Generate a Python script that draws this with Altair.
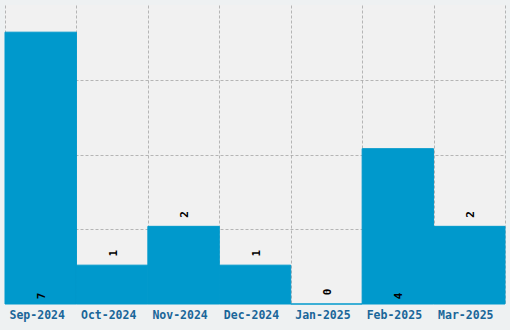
import altair as alt
import pandas as pd

months = ["Sep-2024", "Oct-2024", "Nov-2024", "Dec-2024", "Jan-2025", "Feb-2025", "Mar-2025"]
counts = [7, 1, 2, 1, 0, 4, 2]

df = pd.DataFrame({"month": months, "count": counts})

ymax = 7.7
grid_vals = [ymax * i / 4 for i in range(1, 4)]

x_enc = alt.X("month:N", sort=months, title=None,
              scale=alt.Scale(paddingInner=0, paddingOuter=0),
              axis=alt.Axis(labelAngle=0, ticks=False, domain=False, grid=True,
                            tickBand="extent", labelPadding=5, labelOffset=-4,
                            labelFont="DejaVu Sans Mono", labelFontWeight="bold",
                            labelFontSize=11.5, labelColor="#1a6699",
                            gridColor="#a0a0a0", gridDash=[3, 2], gridOpacity=0.75))
y_scale = alt.Scale(domain=[0, ymax], nice=False, zero=True)

base = alt.Chart(df)

bars = base.mark_bar(color="#0099cc", stroke="#0099cc", strokeWidth=1).encode(
    x=x_enc,
    y=alt.Y("count:Q", scale=y_scale, title=None,
            axis=alt.Axis(values=grid_vals, labels=False, ticks=False, domain=False,
                          grid=True, gridColor="#a0a0a0", gridDash=[3, 2], gridOpacity=0.75)),
)

text_font = dict(font="DejaVu Sans Mono", fontSize=11, fontWeight="bold",
                 color="black", angle=270, align="center", baseline="middle")

small = base.transform_filter(alt.datum["count"] < 4).mark_text(dx=12, dy=1.5, **text_font).encode(
    x=alt.X("month:N", sort=months),
    y=alt.Y("count:Q", scale=y_scale),
    text="count:Q",
)
large = base.transform_filter(alt.datum["count"] >= 4).mark_text(dx=8, dy=1.5, **text_font).encode(
    x=alt.X("month:N", sort=months),
    y=alt.datum(0),
    text="count:Q",
)

chart = alt.layer(bars, small, large).properties(
    width=500, height=299,
    autosize=alt.AutoSizeParams(type="none"),
    padding={"left": 5, "top": 5, "right": 5, "bottom": 26},
    background="#eef1f2",
).configure_view(fill="#f1f1f1", stroke=None).configure_axis(gridWidth=1, zindex=1)

chart.save("out.html", embed_options={"renderer": "svg", "actions": False})
